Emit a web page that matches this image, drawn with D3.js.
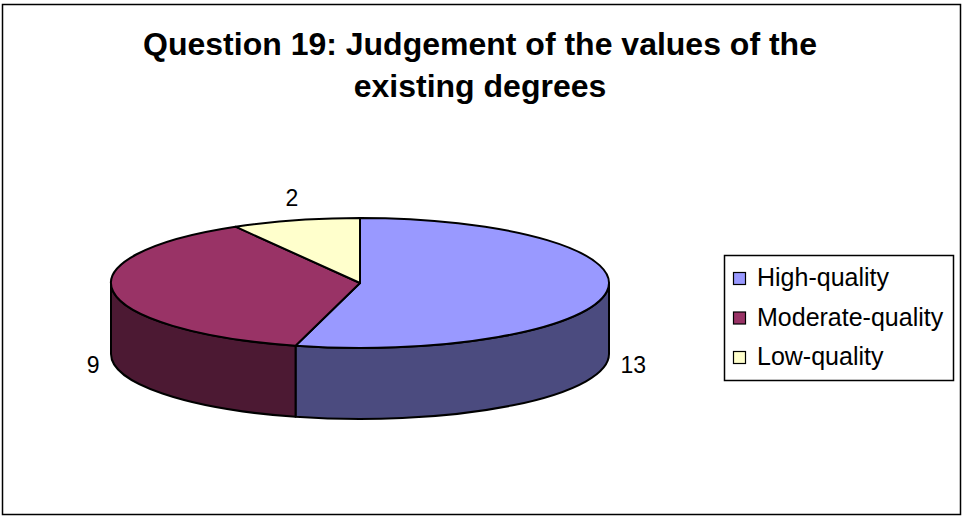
<!DOCTYPE html>
<html>
<head>
<meta charset="utf-8">
<script src="https://cdn.jsdelivr.net/npm/d3@7/dist/d3.min.js"></script>
<style>
    body { margin: 0; background: #fff; }
    svg { display: block; font-family: Arial, "Liberation Sans", sans-serif; }
</style>
</head>
<body>
<svg id="chart" width="962" height="517"></svg>
<script>
// chart data
var titleLines = ["Question 19: Judgement of the values of the", "existing degrees"];
var categories = ["High-quality", "Moderate-quality", "Low-quality"];
var values = [13, 9, 2];
var topColors = ["#9999ff", "#993366", "#ffffcc"];
var sideColors = ["#4b4b7f", "#4c1933", "#7f7f66"];

var svg = d3.select("#chart");

// outer chart border
svg.append("rect")
    .attr("x", 2.5).attr("y", 4.5)
    .attr("width", 958).attr("height", 510)
    .attr("fill", "#fff")
    .attr("stroke", "#000")
    .attr("stroke-width", 1.5);

// title
svg.append("text")
    .attr("text-anchor", "middle")
    .attr("font-weight", "bold")
    .attr("font-size", "32px")
    .selectAll("tspan")
    .data(titleLines)
    .enter().append("tspan")
    .attr("x", 480)
    .attr("y", function (d, i) { return 55 + i * 42; })
    .text(function (d) { return d; });

// ellipse geometry of the 3d pie
var cx = 360, cy = 283, rx = 249, ry = 65, depth = 71;

// angle measured clockwise from 12 o'clock
function pt(a, dy) {
    return [cx + rx * Math.sin(a), cy - ry * Math.cos(a) + (dy || 0)];
}

var pie = d3.pie().sort(null).value(function (d) { return d; });
var arcs = pie(values);

var g = svg.append("g")
    .attr("stroke", "#000")
    .attr("stroke-width", 2)
    .attr("stroke-linejoin", "round");

// side walls - only the front half (PI/2 .. 3PI/2) is visible
arcs.forEach(function (d, i) {
    var s = Math.max(d.startAngle, Math.PI / 2);
    var e = Math.min(d.endAngle, Math.PI * 1.5);
    if (e <= s) return;
    var p0 = pt(s), p1 = pt(e), b1 = pt(e, depth), b0 = pt(s, depth);
    var large = (e - s) > Math.PI ? 1 : 0;
    var path = "M" + p0 + " A" + rx + " " + ry + " 0 " + large + " 1 " + p1 +
        " L" + b1 + " A" + rx + " " + ry + " 0 " + large + " 0 " + b0 + " Z";
    g.append("path")
        .attr("d", path)
        .attr("fill", sideColors[i]);
});

// top faces
arcs.forEach(function (d, i) {
    var p0 = pt(d.startAngle), p1 = pt(d.endAngle);
    var large = (d.endAngle - d.startAngle) > Math.PI ? 1 : 0;
    var path = "M" + cx + "," + cy + " L" + p0 + " A" + rx + " " + ry + " 0 " + large + " 1 " + p1 + " Z";
    g.append("path")
        .attr("d", path)
        .attr("fill", topColors[i]);
});

// value labels outside the slices
arcs.forEach(function (d, i) {
    var mid = (d.startAngle + d.endAngle) / 2;
    var sx = Math.sin(mid), cs = Math.cos(mid);
    var anchor = Math.abs(sx) > 0.5 ? (sx > 0 ? "start" : "end") : "middle";
    var lx = cx + rx * 1.055 * sx;
    var ly = cy - ry * 1.35 * cs + (cs < 0.5 ? depth : 0);
    svg.append("text")
        .attr("x", lx)
        .attr("y", ly + 8)
        .attr("text-anchor", anchor)
        .attr("font-size", "23px")
        .text(values[i]);
});

// legend
var legend = svg.append("g");
legend.append("rect")
    .attr("x", 724.5).attr("y", 255.5)
    .attr("width", 229).attr("height", 125)
    .attr("fill", "#fff")
    .attr("stroke", "#000")
    .attr("stroke-width", 1.5);

var item = legend.selectAll("g.item")
    .data(categories)
    .enter().append("g")
    .attr("class", "item")
    .attr("transform", function (d, i) { return "translate(0," + (i * 39.5) + ")"; });

item.append("rect")
    .attr("x", 733.5).attr("y", 272.5)
    .attr("width", 12).attr("height", 12)
    .attr("fill", function (d, i) { return topColors[i]; })
    .attr("stroke", "#000")
    .attr("stroke-width", 1.2);

item.append("text")
    .attr("x", 757)
    .attr("y", 286)
    .attr("font-size", "25px")
    .text(function (d) { return d; });
</script>
</body>
</html>
